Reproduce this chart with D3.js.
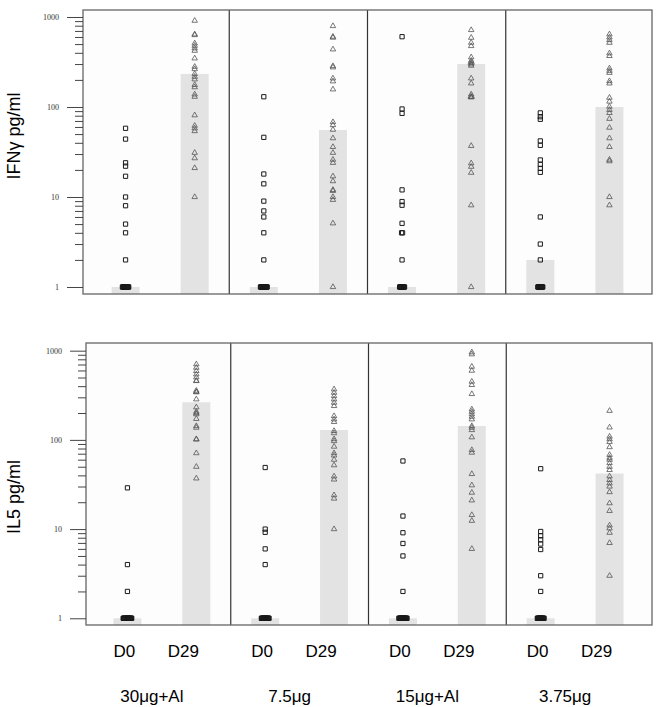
<!DOCTYPE html>
<html><head><meta charset="utf-8">
<script src="https://cdn.jsdelivr.net/npm/d3@7"></script>
<style>body{margin:0;background:#fff;} svg{display:block;font-family:"Liberation Sans",Arial,sans-serif;}</style>
</head><body><svg id="c" width="659" height="707"></svg>
<script>
const groups = ["30μg+Al", "7.5μg", "15μg+Al", "3.75μg"];
const days = ["D0", "D29"];
const yTicks = [1, 10, 100, 1000];
const minorTicks = [2,3,4,5,6,7,8,9,20,30,40,50,60,70,80,90,200,300,400,500,600,700,800,900];

const ifnBarD0 = [1, 1, 1, 2];
const ifnBarD29 = [233, 55.5, 300, 100];
const il5BarD0 = [1, 1, 1, 1];
const il5BarD29 = [264, 129, 143, 42];

const ifnD0 = [
  [58,44,24,22,17,10,8,5,4,2,1,1,1,1,1,1,1,1,1,1,1,1,1,1,1],
  [130,46,18,14,9,7,6,4,2,1,1,1,1,1,1,1,1,1,1,1,1,1,1,1,1],
  [604,95,85,12,8.9,8.1,5.1,4,4,2,1,1,1,1,1,1,1,1,1,1,1,1],
  [86,78,73,42,37.5,25.8,23,20.8,18.8,6,3,2,1,1,1,1,1,1,1,1,1,1,1,1]
];
const ifnD29 = [
  [910,642,630,510,480,449,422,347,280,264,233,217,203,176,166,138,130,81,62,58,54,31,27,21,10],
  [794,604,590,437,285,276,208,193,157,68,63,56,45,36,31,26,24,17,15,12,11.7,10,9.3,5.1,1],
  [717,589,518,476,357,327,311,311,298,288,208,183,138,130,130,128,37,23.7,21.7,18.6,8.1,1],
  [642,594,555,518,395,369,269,253,240,194,183,127,115,101,93,86,74,59,45,36,26,25,10,8.1]
];
const il5D0 = [
  [29,4,2,1,1,1,1,1,1,1,1,1,1,1,1,1,1,1,1,1,1,1,1],
  [49,10,9.2,6,4,1,1,1,1,1,1,1,1,1,1,1,1,1,1,1,1,1,1],
  [58,14,9.1,6.9,5,2,1,1,1,1,1,1,1,1,1,1,1,1,1,1,1,1,1,1,1],
  [47.5,9.4,8.4,7.6,6.8,5.9,3,2,1,1,1,1,1,1,1,1,1,1,1,1,1,1,1,1]
];
const il5D29 = [
  [704,645,592,543,503,460,457,356,345,342,285,232,207,200,194,172,143,137,102,101,71,50,37],
  [369,338,310,285,261,240,185,170,159,126,119,102,97,84,71,67,60,52,39,36,24,22,10],
  [960,912,662,597,450,413,327,220,207,194,182,170,143,137,129,107,77,72,41.5,31,25.6,21,14.4,12.4,6],
  [212,138,109,102,95,83,68,63,60,55,50,46,39,35.5,32.6,30,26,19.5,16,11,10.2,9.1,7,3]
];

const svg = d3.select("#c");
const W_RIGHT = 652, BAND_RIGHT = 644;

const panels = [
  {title: "IFNγ pg/ml", bars: [ifnBarD0, ifnBarD29], pts: [ifnD0, ifnD29],
   top: 10, bottom: 294, left: 83, bandLeft: 91, domain: [0.836, 1196], titleY: 136},
  {title: "IL5 pg/ml", bars: [il5BarD0, il5BarD29], pts: [il5D0, il5D29],
   top: 343, bottom: 625, left: 86, bandLeft: 93, domain: [0.841, 1219], titleY: 497}
];

function dodge(vals) {
  const counts = d3.rollup(vals, v => v.length, d => d);
  const seen = new Map();
  return vals.map(v => {
    const n = counts.get(v);
    const k = seen.get(v) || 0; seen.set(v, k + 1);
    const step = n > 4 ? 0.45 : 1;
    return {v, dx: (k - (n - 1) / 2) * step};
  });
}

let lastX;
panels.forEach(p => {
  const y = d3.scaleLog().domain(p.domain).range([p.bottom, p.top]);
  const xg = d3.scaleBand().domain(groups).range([p.bandLeft, BAND_RIGHT]);
  const xd = d3.scalePoint().domain(days).range([0, xg.bandwidth()]).padding(0.5);
  lastX = {xg, xd};
  const g = svg.append("g");

  g.append("rect").attr("x", p.left).attr("y", p.top)
    .attr("width", W_RIGHT - p.left).attr("height", p.bottom - p.top)
    .attr("fill", "#fdfdfd");

  // bars
  days.forEach((day, di) => {
    g.selectAll(null).data(groups).join("rect")
      .attr("x", (gr) => xg(gr) + xd(day) - 14)
      .attr("width", 28)
      .attr("y", (gr, i) => y(p.bars[di][i]))
      .attr("height", (gr, i) => p.bottom - y(p.bars[di][i]))
      .attr("fill", "#e3e3e3");
  });

  // dividers
  g.selectAll(null).data(groups.slice(1)).join("line")
    .attr("x1", d => xg(d)).attr("x2", d => xg(d))
    .attr("y1", p.top).attr("y2", p.bottom)
    .attr("stroke", "#333").attr("stroke-width", 1.2);

  // points
  const sq = d3.symbol().type(d3.symbolSquare).size(18)();
  const tri = d3.symbol().type(d3.symbolTriangle).size(13)();
  groups.forEach((gr, gi) => {
    days.forEach((day, di) => {
      const cx = xg(gr) + xd(day);
      g.selectAll(null).data(dodge(p.pts[di][gi])).join("path")
        .attr("d", di === 0 ? sq : tri)
        .attr("transform", d => `translate(${cx + d.dx},${y(d.v)})`)
        .attr("fill", "none")
        .attr("stroke", di === 0 ? "#1a1a1a" : "#555")
        .attr("stroke-width", di === 0 ? 1 : 0.8);
    });
  });

  // box
  g.append("rect").attr("x", p.left).attr("y", p.top)
    .attr("width", W_RIGHT - p.left).attr("height", p.bottom - p.top)
    .attr("fill", "none").attr("stroke", "#666").attr("stroke-width", 1.3);

  // axes
  const ax = g.append("g").attr("transform", `translate(${p.left},0)`)
    .call(d3.axisLeft(y).tickValues(yTicks).tickSize(16).tickPadding(8).tickFormat(d3.format("d")));
  ax.select(".domain").remove();
  ax.selectAll("line").attr("stroke", "#444");
  ax.selectAll("text").attr("font-family", "'Liberation Serif', serif").attr("font-size", 8).attr("fill", "#333");
  const mx = g.append("g").attr("transform", `translate(${p.left},0)`)
    .call(d3.axisLeft(y).tickValues(minorTicks).tickSize(8).tickFormat(""));
  mx.select(".domain").remove();
  mx.selectAll("line").attr("stroke", "#444");

  g.append("text").attr("transform", `translate(20,${p.titleY}) rotate(-90)`)
    .attr("text-anchor", "middle").attr("font-size", 18).attr("fill", "#000").text(p.title);
});

// category labels
const {xg, xd} = lastX;
const dayOffset = {D0: -3, D29: -13};
groups.forEach(gr => {
  days.forEach(day => {
    svg.append("text").attr("x", xg(gr) + xd(day) + dayOffset[day]).attr("y", 657)
      .attr("text-anchor", "middle").attr("font-size", 17).text(day);
  });
});
svg.selectAll(null).data(groups).join("text")
  .attr("x", d => xg(d) + xg.bandwidth() / 2 - 10).attr("y", 702)
  .attr("text-anchor", "middle").attr("font-size", 17).text(d => d);
</script></body></html>
